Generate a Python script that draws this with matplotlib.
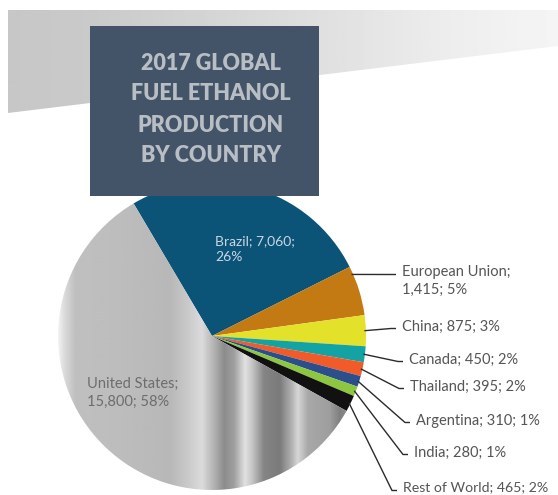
import matplotlib.pyplot as plt
import numpy as np
from matplotlib.patches import Polygon, Rectangle

W, H = 558, 495

countries = ['Brazil', 'European Union', 'China', 'Canada', 'Thailand',
             'Argentina', 'India', 'Rest of World', 'United States']
volumes = [7060, 1415, 875, 450, 395, 310, 280, 465, 15800]  # million gallons
shares = [26, 5, 3, 2, 2, 1, 1, 2, 58]
colors = ['#0b5478', '#c47a12', '#e4e12b', '#14a3a5', '#f15a29',
          '#2b4e8c', '#8dc63f', '#111111', '#b8b8b8']

title_lines = ['2017 GLOBAL', 'FUEL ETHANOL', 'PRODUCTION', 'BY COUNTRY']

plt.rcParams['font.family'] = ['Lato', 'DejaVu Sans']


def px(y):
    # layout numbers below are measured from the top edge
    return H - y


def label(i, split_at=None):
    parts = [countries[i], f'{volumes[i]:,}', f'{shares[i]}%']
    if split_at is None:
        return '; '.join(parts)
    return '; '.join(parts[:split_at]) + ';\n' + '; '.join(parts[split_at:])


fig = plt.figure(figsize=(W / 100, H / 100), dpi=100)
ax = fig.add_axes([0, 0, 1, 1])

# grey band across the top, fading out to the right
band = Polygon([(8, px(10)), (W, px(10)), (W, px(46)), (8, px(113))],
               closed=True, facecolor='none', edgecolor='none')
ax.add_patch(band)
bx = np.linspace(8, W, 400)
bg = np.interp(bx, [8, 90, 200, 330, 450, W], [0.78, 0.79, 0.83, 0.88, 0.93, 0.96])
bimg = ax.imshow(np.tile(bg, (2, 1)), cmap='gray', vmin=0, vmax=1,
                 extent=(8, W, px(113), px(10)), aspect='auto',
                 interpolation='bilinear', zorder=0)
bimg.set_clip_path(band)

# pie
cx, cy, r = 212, px(336), 154
wedges, _ = ax.pie(volumes, colors=colors, startangle=120.6,
                   counterclock=False, center=(cx, cy), radius=r)

# brushed-metal look for the United States slice
us = wedges[-1]
us.set_facecolor('none')
gx = [58, 64, 75, 120, 170, 190, 202, 214, 224, 234, 245, 252,
      264, 280, 292, 298, 308, 330, 340, 352, 366]
gv = [0.95, 0.86, 0.75, 0.74, 0.72, 0.80, 0.86, 0.70, 0.55, 0.62, 0.88, 0.78,
      0.52, 0.48, 0.70, 0.84, 0.66, 0.62, 0.50, 0.58, 0.66]
xs = np.linspace(cx - r, cx + r, 600)
metal = np.interp(xs, gx, gv)
mimg = ax.imshow(np.tile(metal, (2, 1)), cmap='gray', vmin=0, vmax=1,
                 extent=(cx - r, cx + r, cy - r, cy + r), aspect='auto',
                 interpolation='bilinear', zorder=1)
mimg.set_clip_path(us)

# labels inside the two big slices
ax.text(215, px(249), label(0, 2), color='#c9d6e2', fontsize=10,
        va='center', ha='left', linespacing=1.4, zorder=3)
ax.text(87, px(393), label(8, 1), color='#6d6d6d', fontsize=10.5,
        va='center', ha='left', linespacing=1.4, zorder=3)

# leader lines and labels for the small slices
text_x = [402, 402, 409, 410, 416, 414, 403]
text_y = [281, 327, 360, 387, 421, 453, 487]
hook_y = [273, 327, 360, 387, 421, 453, 489]
anchor = [0.15, 0.5, 0.5, 0.5, 0.5, 0.5, 0.5]
for k, i in enumerate(range(1, 8)):
    w = wedges[i]
    a = np.radians(w.theta2 - anchor[k] * (w.theta2 - w.theta1))
    x0, y0 = cx + 0.99 * r * np.cos(a), cy + 0.99 * r * np.sin(a)
    xe = text_x[k] - 6
    ax.plot([x0, xe - 5, xe], [y0, px(hook_y[k]) - 1.5, px(hook_y[k]) - 1.5],
            color='#2b2b2b', lw=1.0, zorder=3, solid_capstyle='butt')
    txt = label(i, 1) if i == 1 else label(i)
    ax.text(text_x[k], px(text_y[k]), txt, color='#555555',
            fontsize=10.5 if i != 7 else 10.2,
            va='center', ha='left', linespacing=1.4, zorder=3)

# title panel sits over the top of the pie
ax.add_patch(Rectangle((90, px(196)), 229, 170, facecolor='#435468',
                       edgecolor='none', zorder=5))
for j, line in enumerate(title_lines):
    ax.text(211, px(63 + j * 31), line, color='#b9bec5', fontsize=15.5,
            fontweight='heavy', ha='center', va='center', zorder=6)

ax.set_xlim(0, W)
ax.set_ylim(0, H)
ax.set_aspect('auto')
ax.axis('off')

fig.savefig('out.png', dpi=100)
